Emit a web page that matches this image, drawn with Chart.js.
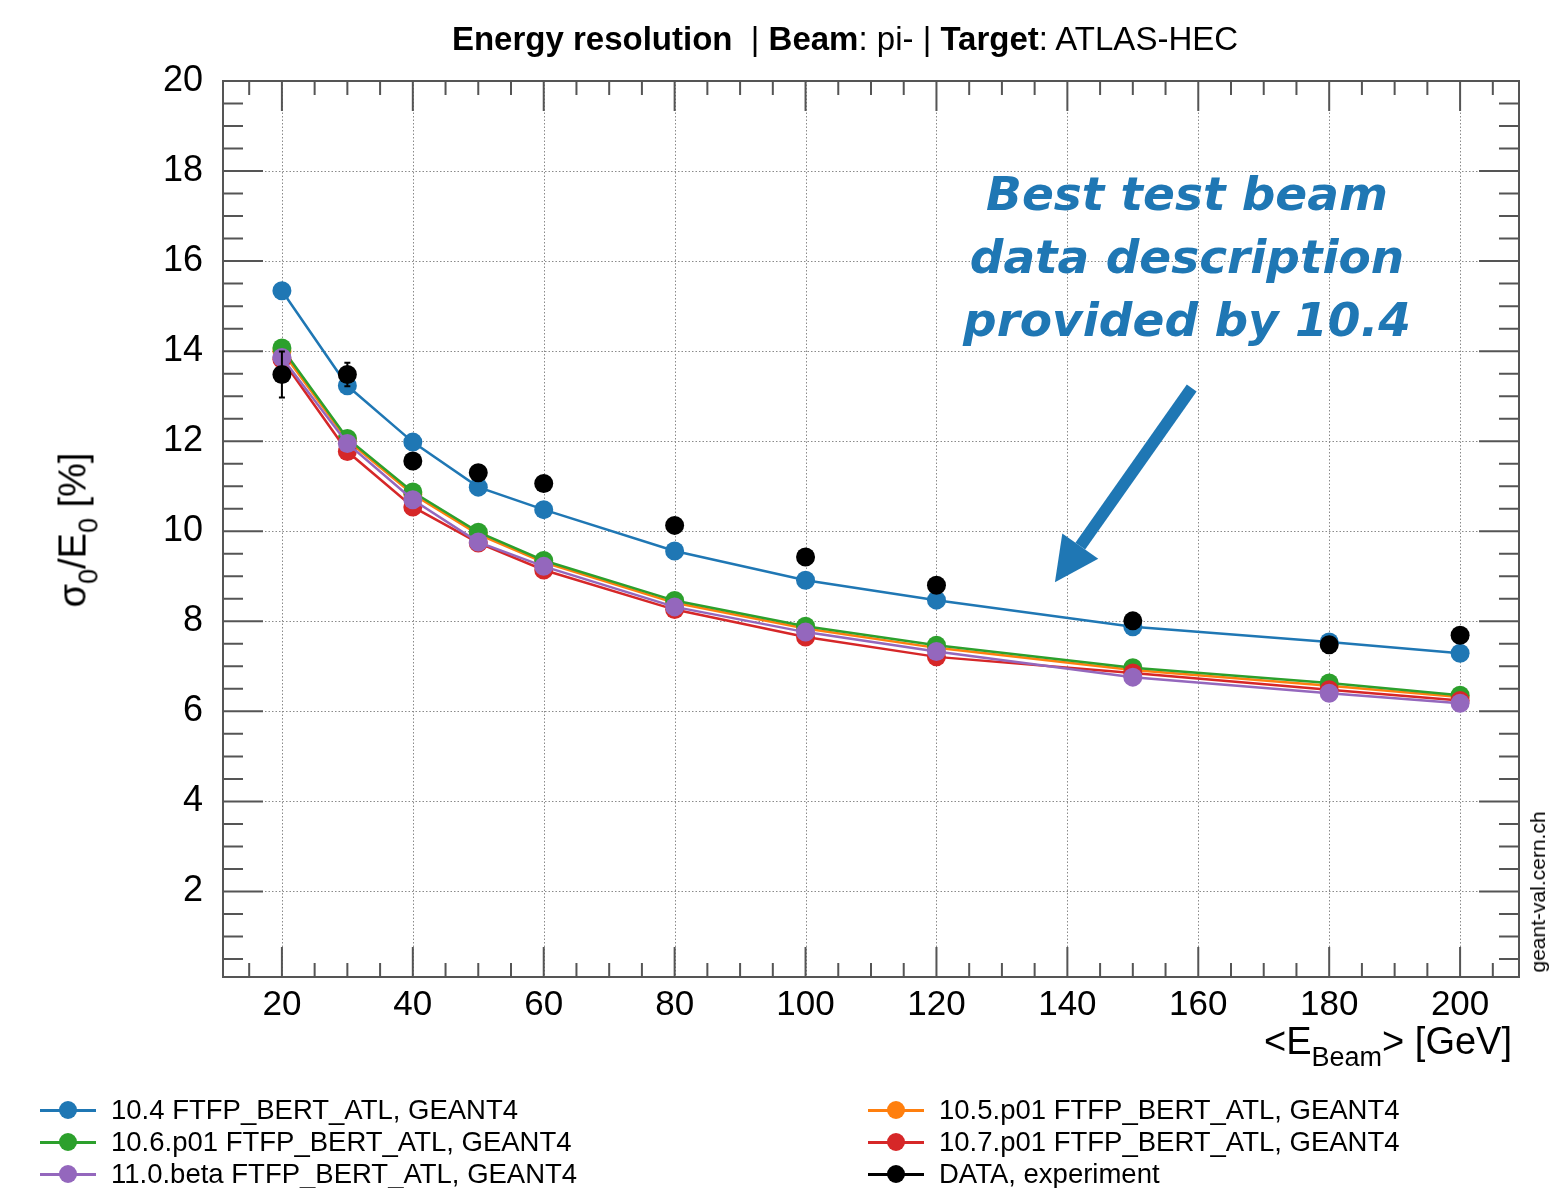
<!DOCTYPE html>
<html>
<head>
<meta charset="utf-8">
<script src="https://cdn.jsdelivr.net/npm/chart.js@4.4.1/dist/chart.umd.min.js"></script>
<style>
  body { margin: 0; background: #fff; }
  #wrap { position: relative; width: 1553px; height: 1188px; font-family: "Liberation Sans", Arial, sans-serif; color: #000; }
  #chart { position: absolute; left: 0; top: 0; }
  .txt { position: absolute; white-space: nowrap; }
  #title { left: 0; width: 1690px; top: 21px; font-size: 33px; line-height: 36px; text-align: center; }
  #ytitle { left: 73px; top: 530px; font-size: 38px; transform: translate(-50%, -50%) rotate(-90deg); }
  #xtitle { right: 41px; top: 1020px; font-size: 38px; line-height: 42px; }
  #xtitle sub, #ytitle sub { font-size: 27px; vertical-align: -12px; line-height: 0; }
  #note { left: 887px; width: 600px; top: 162px; font-family: "DejaVu Sans", sans-serif; font-style: italic; font-weight: bold;
          font-size: 47px; line-height: 63px; text-align: center; color: #1f77b4; white-space: normal; }
  #stamp { left: 1538px; top: 892px; font-size: 21px; transform: translate(-50%, -50%) rotate(-90deg); }
  .leg { position: absolute; height: 30px; font-size: 27.5px; line-height: 30px; white-space: nowrap; }
  .leg .ln { position: absolute; left: 0; top: 14px; width: 56px; height: 2.5px; }
  .leg .dot { position: absolute; left: 19px; top: 6px; width: 18px; height: 18px; border-radius: 50%; }
  .leg .lab { position: absolute; left: 71px; top: 0; }
</style>
</head>
<body>
<div id="wrap">
  <canvas id="chart" width="1553" height="1188"></canvas>
  <div class="txt" id="title"><b>Energy resolution</b>&nbsp; | <b>Beam</b>: pi- | <b>Target</b>: ATLAS-HEC</div>
  <div class="txt" id="ytitle">&sigma;<sub>0</sub>/E<sub>0</sub> [%]</div>
  <div class="txt" id="xtitle">&lt;E<sub>Beam</sub>&gt; [GeV]</div>
  <div class="txt" id="note">Best test beam<br>data description<br>provided by 10.4</div>
  <div class="txt" id="stamp">geant-val.cern.ch</div>
  <div id="legend"></div>
</div>
<script>
// beam energies [GeV]
const energies = [20, 30, 40, 50, 60, 80, 100, 120, 150, 180, 200];

// sigma/E [%] per Geant4 version
const g4_104 = [15.34, 13.23, 11.98, 10.98, 10.48, 9.56, 8.91, 8.47, 7.88, 7.54, 7.29];
const g4_105 = [14.00, 12.02, 10.82, 9.93, 9.31, 8.41, 7.84, 7.41, 6.92, 6.57, 6.32];
const g4_106 = [14.07, 12.06, 10.87, 9.98, 9.35, 8.46, 7.89, 7.47, 6.97, 6.63, 6.36];
const g4_107 = [13.82, 11.77, 10.54, 9.74, 9.14, 8.26, 7.65, 7.21, 6.85, 6.48, 6.24];
const g4_110 = [13.86, 11.95, 10.70, 9.76, 9.22, 8.32, 7.76, 7.33, 6.76, 6.40, 6.18];

// test beam data and its errors
const dataVals = [13.48, 13.48, 11.56, 11.30, 11.06, 10.13, 9.43, 8.80, 8.01, 7.48, 7.69];
const dataErrs = [0.51, 0.26, 0.15, 0.15, 0.15, 0.12, 0.12, 0.12, 0.12, 0.10, 0.10];

const seriesLabels = [
    "10.4 FTFP_BERT_ATL, GEANT4",
    "10.5.p01 FTFP_BERT_ATL, GEANT4",
    "10.6.p01 FTFP_BERT_ATL, GEANT4",
    "10.7.p01 FTFP_BERT_ATL, GEANT4",
    "11.0.beta FTFP_BERT_ATL, GEANT4",
    "DATA, experiment",
];

const xTickValues = [20, 40, 60, 80, 100, 120, 140, 160, 180, 200];
const yTickValues = [2, 4, 6, 8, 10, 12, 14, 16, 18, 20];

// arrow of the annotation, in axis units
const arrowFrom = { x: 159, y: 13.18 };
const arrowTo = { x: 138.1, y: 8.87 };

const colors = ["#1f77b4", "#ff7f0e", "#2ca02c", "#d62728", "#9467bd", "#000000"];
const FONT = '"Liberation Sans", Arial, sans-serif';

const toPts = (vals) => energies.map((e, i) => ({ x: e, y: vals[i] }));

function mkSet(i, vals, order, showLine) {
    return {
        label: seriesLabels[i],
        data: toPts(vals),
        borderColor: colors[i],
        backgroundColor: colors[i],
        borderWidth: 2.5,
        pointRadius: 9.5,
        pointBorderWidth: 0,
        pointBackgroundColor: colors[i],
        showLine: showLine,
        tension: 0,
        order: order,
    };
}

// ROOT-like frame: dotted grid, box and inside ticks on every side
const rootFrame = {
    id: "rootFrame",
    beforeDatasetsDraw(chart) {
        const { ctx, chartArea: a, scales: { x, y } } = chart;
        ctx.save();
        ctx.strokeStyle = "#8a8a8a";
        ctx.lineWidth = 1;
        ctx.setLineDash([1.5, 2]);
        ctx.beginPath();
        xTickValues.forEach((v) => {
            const px = Math.round(x.getPixelForValue(v)) + 0.5;
            ctx.moveTo(px, a.top); ctx.lineTo(px, a.bottom);
        });
        yTickValues.forEach((v) => {
            const py = Math.round(y.getPixelForValue(v)) + 0.5;
            ctx.moveTo(a.left, py); ctx.lineTo(a.right, py);
        });
        ctx.stroke();
        ctx.setLineDash([]);

        ctx.strokeStyle = "#555";
        ctx.lineWidth = 2;
        ctx.strokeRect(a.left, a.top, a.right - a.left, a.bottom - a.top);

        ctx.beginPath();
        for (let v = 15; v <= x.max; v += 5) {
            const px = x.getPixelForValue(v);
            const len = v % 20 === 0 ? 30 : 14;
            ctx.moveTo(px, a.bottom); ctx.lineTo(px, a.bottom - len);
            ctx.moveTo(px, a.top); ctx.lineTo(px, a.top + len);
        }
        for (let v = 0.5; v <= y.max; v += 0.5) {
            const py = y.getPixelForValue(v);
            const len = Math.abs(v % 2) < 1e-6 ? 40 : 20;
            ctx.moveTo(a.left, py); ctx.lineTo(a.left + len, py);
            ctx.moveTo(a.right, py); ctx.lineTo(a.right - len, py);
        }
        ctx.stroke();
        ctx.restore();
    },
    afterDatasetsDraw(chart) {
        const { ctx, scales: { x, y } } = chart;
        ctx.save();
        // error bars on the data
        ctx.strokeStyle = "#000";
        ctx.lineWidth = 2;
        ctx.beginPath();
        energies.forEach((e, i) => {
            const px = x.getPixelForValue(e);
            const y1 = y.getPixelForValue(dataVals[i] + dataErrs[i]);
            const y2 = y.getPixelForValue(dataVals[i] - dataErrs[i]);
            ctx.moveTo(px, y1); ctx.lineTo(px, y2);
            ctx.moveTo(px - 3, y1); ctx.lineTo(px + 3, y1);
            ctx.moveTo(px - 3, y2); ctx.lineTo(px + 3, y2);
        });
        ctx.stroke();

        // annotation arrow
        const x0 = x.getPixelForValue(arrowFrom.x), y0 = y.getPixelForValue(arrowFrom.y);
        const x1 = x.getPixelForValue(arrowTo.x), y1 = y.getPixelForValue(arrowTo.y);
        const ang = Math.atan2(y1 - y0, x1 - x0);
        const headLen = 44, headHalf = 22;
        const bx = x1 - headLen * Math.cos(ang), by = y1 - headLen * Math.sin(ang);
        ctx.strokeStyle = "#1f77b4";
        ctx.fillStyle = "#1f77b4";
        ctx.lineWidth = 12;
        ctx.beginPath();
        ctx.moveTo(x0, y0); ctx.lineTo(bx, by);
        ctx.stroke();
        ctx.beginPath();
        ctx.moveTo(x1, y1);
        ctx.lineTo(bx + headHalf * Math.sin(ang), by - headHalf * Math.cos(ang));
        ctx.lineTo(bx - headHalf * Math.sin(ang), by + headHalf * Math.cos(ang));
        ctx.closePath();
        ctx.fill();
        ctx.restore();
    },
};

new Chart(document.getElementById("chart").getContext("2d"), {
    type: "line",
    data: {
        datasets: [
            mkSet(0, g4_104, 5, true),
            mkSet(1, g4_105, 4, true),
            mkSet(2, g4_106, 3, true),
            mkSet(3, g4_107, 2, true),
            mkSet(4, g4_110, 1, true),
            mkSet(5, dataVals, 0, false),
        ],
    },
    options: {
        responsive: false,
        animation: false,
        layout: { padding: { left: 0, top: 81, right: 34, bottom: 0 } },
        plugins: { legend: { display: false }, title: { display: false }, tooltip: { enabled: false } },
        scales: {
            x: {
                type: "linear",
                min: 11,
                max: 209,
                afterBuildTicks: (s) => { s.ticks = xTickValues.map((v) => ({ value: v })); },
                afterFit: (s) => { s.height = 211; },
                grid: { display: false, drawTicks: false },
                border: { display: false },
                ticks: { color: "#000", padding: 7, maxRotation: 0, font: { family: FONT, size: 35 }, callback: (v) => String(v) },
            },
            y: {
                type: "linear",
                min: 0.1,
                max: 20,
                afterBuildTicks: (s) => { s.ticks = yTickValues.map((v) => ({ value: v })); },
                afterFit: (s) => { s.width = 223; },
                grid: { display: false, drawTicks: false },
                border: { display: false },
                ticks: { color: "#000", padding: 20, font: { family: FONT, size: 36 }, callback: (v) => String(v) },
            },
        },
    },
    plugins: [rootFrame],
});

// legend in two columns under the plot
const legendPos = [
    { left: 40, top: 1095 }, { left: 868, top: 1095 },
    { left: 40, top: 1127 }, { left: 868, top: 1127 },
    { left: 40, top: 1159 }, { left: 868, top: 1159 },
];
const legendOrder = [0, 1, 2, 3, 4, 5];
const legendEl = document.getElementById("legend");
legendOrder.forEach((si, k) => {
    const row = document.createElement("div");
    row.className = "leg";
    row.style.left = legendPos[k].left + "px";
    row.style.top = legendPos[k].top + "px";
    row.innerHTML = '<span class="ln" style="background:' + colors[si] + '"></span>' +
        '<span class="dot" style="background:' + colors[si] + '"></span>' +
        '<span class="lab">' + seriesLabels[si] + "</span>";
    legendEl.appendChild(row);
});
</script>
</body>
</html>
